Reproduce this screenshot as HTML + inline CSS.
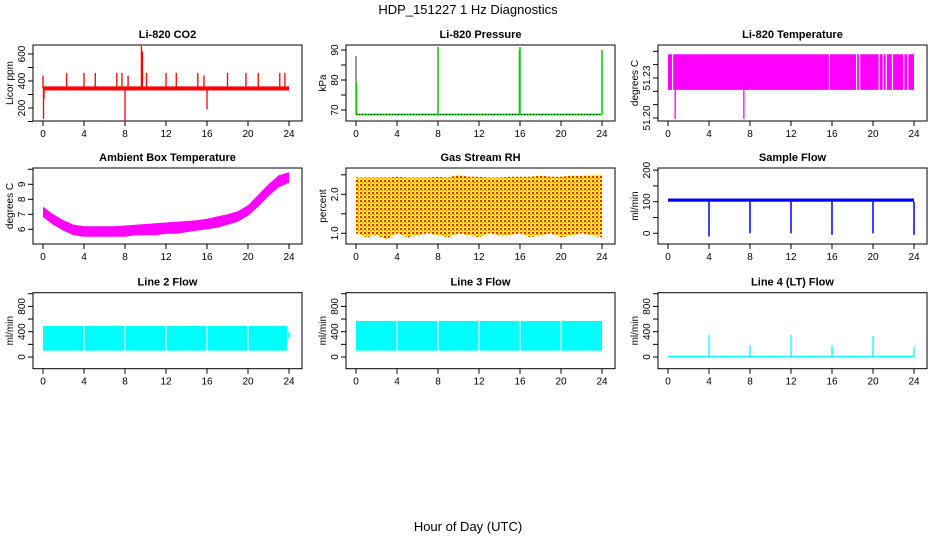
<!DOCTYPE html>
<html><head><meta charset="utf-8"><style>
body{margin:0;background:#fff}
svg{display:block;font-family:"Liberation Sans",sans-serif}
</style></head><body>
<svg id="c" width="936" height="540" xmlns="http://www.w3.org/2000/svg">
<defs><pattern id="rh" width="4" height="4" patternUnits="userSpaceOnUse"><rect width="4" height="4" fill="#ffff00"/><rect width="2" height="2" fill="#ff2000"/><rect x="2" y="2" width="1" height="1" fill="#ff6000"/></pattern></defs>
<text x="468" y="14" text-anchor="middle" font-size="13">HDP_151227  1 Hz Diagnostics</text>
<text x="468" y="531" text-anchor="middle" font-size="13">Hour of Day (UTC)</text>
</svg>
<script>
const xTicks=[0,4,8,12,16,20,24];
// CO2
const co2Band=[330,360];
const co2Spikes=[[0,440],[0.05,120],[0.1,270],[2.3,460],[4,460],[5.1,460],[7.2,460],[7.7,460],[8,100],[8.3,440],[9.6,660],[9.7,620],[10.1,460],[12,460],[13,460],[15.1,460],[15.7,440],[16,190],[18,460],[19.8,460],[21,460],[23.1,460],[23.6,460]];
// Pressure
const presBand=[68.2,68.8];
const presSpikes=[[0,88],[0.05,79],[8,91],[16,91],[15.95,90],[24,90]];
// Li-820 temperature
const tempBand=[51.2211,51.2478];
const tempGaps=[0.45,15.75,18.4,18.7,20.6,21.0,21.3,21.9,23.0,23.4];
const tempSpikes=[[0.7,51.1993],[7.4,51.1993]];
// Ambient box temperature (hourly envelope)
const ambLow=[6.8,6.3,5.9,5.6,5.5,5.5,5.5,5.5,5.5,5.6,5.6,5.6,5.7,5.7,5.8,5.9,6.0,6.1,6.3,6.5,6.9,7.5,8.2,8.8,9.1];
const ambHigh=[7.5,7.0,6.6,6.3,6.2,6.2,6.2,6.2,6.25,6.3,6.35,6.4,6.45,6.5,6.55,6.6,6.7,6.85,7.0,7.2,7.6,8.3,9.0,9.6,9.8];
// Gas stream RH
const rhHigh=[2.43,2.43,2.43,2.43,2.45,2.43,2.43,2.43,2.45,2.43,2.5,2.45,2.45,2.43,2.43,2.45,2.45,2.45,2.48,2.45,2.45,2.48,2.48,2.5,2.5];
const rhLow=[1.0,0.9,0.95,0.85,1.0,0.9,0.95,1.0,0.95,0.9,1.0,0.95,0.9,1.0,0.95,0.95,1.0,0.9,0.95,1.0,0.9,0.95,1.0,0.95,0.9];
// Sample flow
const sfBand=[100,110];
const sfDips=[4,8,12,16,20,24];
const sfDipVal=[-10,0,0,-5,0,-5];
// Line flows
const l2Band=[100,490];
const l2Gaps=[4,8,12,16,20];
const l3Band=[100,570];
const l3Gaps=[4,8,12,16,20];
const l4Band=[0,20];
const l4Spikes=[[4,350],[8,180],[12,350],[16,180],[20,330],[24,160]];

const svg=document.getElementById('c');
const NS='http://www.w3.org/2000/svg';
function mk(tag,attrs,parent){const e=document.createElementNS(NS,tag);for(const k in attrs)e.setAttribute(k,attrs[k]);(parent||svg).appendChild(e);return e;}
const colL=[33,346,658], rowT=[45,168,292.7], W=269, H=76;
function panel(ci,ri,name,title,ylab,vA,yA,vB,yB,yticks,ylabels){
  const L=colL[ci],T=rowT[ri];
  const g=mk('g',{});
  
  
  const xs=h=>L+10+h*(246/24);
  const ys=v=>yA+(v-vA)*(yB-yA)/(vB-vA);
  const t=mk('text',{x:L+W/2,y:T-7,'text-anchor':'middle','font-size':11,'font-weight':'bold'},g);t.textContent=title;
  
  
  const box=mk('rect',{x:L,y:T,width:W,height:H,fill:'none',stroke:'#000','stroke-width':1},g);
  
  
  const xa=mk('g',{},g);
  
  
  xTicks.forEach(h=>{mk('line',{x1:xs(h),x2:xs(h),y1:T+H,y2:T+H+5,stroke:'#000'},xa);
    const tx=mk('text',{x:xs(h),y:T+H+16,'text-anchor':'middle','font-size':10},xa);tx.textContent=h;});
  const ya=mk('g',{},g);
  
  
  yticks.forEach(v=>{const y=ys(v);if(y<T-1||y>T+H+1)return;mk('line',{x1:L-5,x2:L,y1:y,y2:y,stroke:'#000'},ya);});
  ylabels.forEach(v=>{const y=ys(v);const tx=mk('text',{x:L-8,y:y,'text-anchor':'middle','font-size':10,transform:`rotate(-90 ${L-8} ${y})`},ya);tx.textContent=v;});
  const yl=mk('text',{x:L-20,y:T+H/2,'text-anchor':'middle','font-size':10,transform:`rotate(-90 ${L-20} ${T+H/2})`},g);yl.textContent=ylab;
  
  
  const d=mk('g',{},g);
  
  
  return {xs,ys,d};
}
function band(p,lo,hi,h0,h1,fill){const r=mk('rect',{x:p.xs(h0),y:p.ys(hi),width:p.xs(h1)-p.xs(h0),height:p.ys(lo)-p.ys(hi),fill:fill},p.d);return r;}
function spike(p,h,v1,v2,col,w){const l=mk('line',{x1:p.xs(h),x2:p.xs(h),y1:p.ys(v1),y2:p.ys(v2),stroke:col,'stroke-width':w||1.3},p.d);}
function gap(p,h,lo,hi){spike(p,h,lo,hi,'#fff',1.2);}
function envelope(p,low,high,fill){let pts=[];high.forEach((v,i)=>pts.push(p.xs(i)+','+p.ys(v)));for(let i=low.length-1;i>=0;i--)pts.push(p.xs(i)+','+p.ys(low[i]));const e=mk('polygon',{points:pts.join(' '),fill:fill},p.d);}

// CO2
let p=panel(0,0,'co2','Li-820 CO2','Licor ppm',200,108,600,54,[100,200,300,400,500,600,700],[200,400,600]);
band(p,co2Band[0],co2Band[1],0,24,'#ff0000');
co2Spikes.forEach(s=>spike(p,s[0],345,s[1],'#ff0000'));
// Pressure
p=panel(1,0,'pressure','Li-820 Pressure','kPa',70,110,90,50,[70,75,80,85,90],[70,80,90]);
band(p,presBand[0],presBand[1],0,24,'#00dd00');
p.d.appendChild(Object.assign(document.createElementNS(NS,'line'),{}));
mk('line',{x1:p.xs(0),x2:p.xs(24),y1:p.ys(68.5),y2:p.ys(68.5),stroke:'#000','stroke-dasharray':'1 2'},p.d);
presSpikes.forEach((s,i)=>spike(p,s[0],68.5,s[1],i==0?'#000':'#00cc00',i==0?0.8:1.5));
// Li-820 temp
p=panel(2,0,'li820-temp','Li-820 Temperature','degrees C',51.20,118,51.23,78,[51.20,51.21,51.22,51.23,51.24,51.25],['51.20','51.23']);
band(p,tempBand[0],tempBand[1],0,24,'#ff00ff');
tempGaps.forEach(h=>gap(p,h,tempBand[0],tempBand[1]));
tempSpikes.forEach(s=>spike(p,s[0],tempBand[0],s[1],'#ff00ff'));
// Ambient
p=panel(0,1,'ambient-temp','Ambient Box Temperature','degrees C',6,229.3,9,184.3,[6,7,8,9,10],[6,7,8,9]);
envelope(p,ambLow,ambHigh,'#ff00ff');
// RH
p=panel(1,1,'gas-rh','Gas Stream RH','percent',1,233.3,2,194.3,[1.0,1.5,2.0,2.5],['1.0','2.0']);
envelope(p,rhLow,rhHigh,'url(#rh)');
// Sample flow
p=panel(2,1,'sample-flow','Sample Flow','ml/min',0,233.3,100,201.7,[0,50,100,150,200],[0,100,200]);
band(p,sfBand[0],sfBand[1],0,24,'#0000ff');
sfDips.forEach((h,i)=>spike(p,h,100,sfDipVal[i],'#0000ff',1.5));
// Line 2
p=panel(0,2,'line2-flow','Line 2 Flow','ml/min',0,357,400,331.7,[0,200,400,600,800,1000],[0,400,800]);
band(p,l2Band[0],l2Band[1],0,23.8,'#00ffff');
l2Gaps.forEach(h=>gap(p,h,l2Band[0],l2Band[1]));
spike(p,24,300,400,'#00ffff',1.5);
// Line 3
p=panel(1,2,'line3-flow','Line 3 Flow','ml/min',0,357,400,331.7,[0,200,400,600,800,1000],[0,400,800]);
band(p,l3Band[0],l3Band[1],0,24,'#00ffff');
l3Gaps.forEach(h=>gap(p,h,l3Band[0],l3Band[1]));
// Line 4
p=panel(2,2,'line4-flow','Line 4 (LT) Flow','ml/min',0,357,400,331.7,[0,200,400,600,800,1000],[0,400,800]);
band(p,l4Band[0],l4Band[1],0,24,'#00ffff');
l4Spikes.forEach(s=>spike(p,s[0],10,s[1],'#00ffff',1.3));
</script>
</body></html>
